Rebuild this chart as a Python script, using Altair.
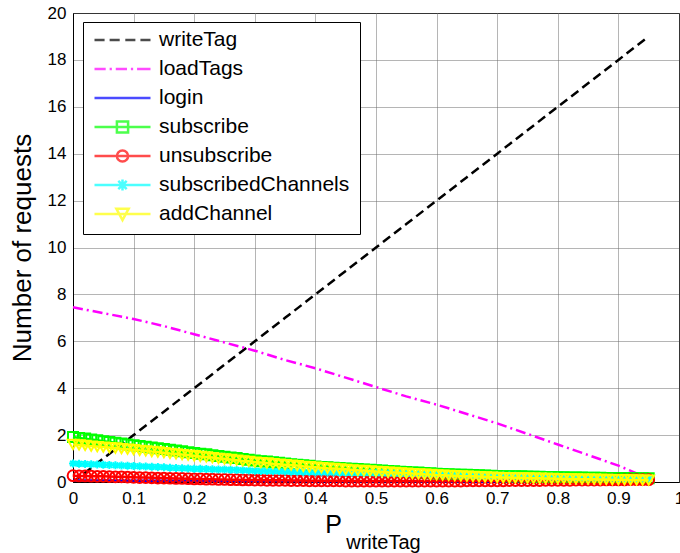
import altair as alt
import pandas as pd

FONT = "Liberation Sans"

# ---------------- data ----------------
series_names = ["writeTag", "loadTags", "login", "subscribe", "unsubscribe",
                "subscribedChannels", "addChannel"]
series_colors = ["#000000", "#ff00ff", "#0000ff", "#00ff00", "#ff0000",
                 "#00ffff", "#ffff00"]

x_coarse = [0.00, 0.05, 0.10, 0.15, 0.20, 0.25, 0.30, 0.35, 0.40, 0.45,
            0.50, 0.55, 0.60, 0.65, 0.70, 0.75, 0.80, 0.85, 0.90, 0.95]
write_tag = [0.0, 1.0, 2.0, 3.0, 4.0, 5.0, 6.0, 7.0, 8.0, 9.0,
             10.0, 11.0, 12.0, 13.0, 14.0, 15.0, 16.0, 17.0, 18.0, 19.0]
load_tags = [7.45, 7.20, 6.95, 6.65, 6.30, 5.95, 5.60, 5.20, 4.85, 4.45,
             4.05, 3.65, 3.30, 2.90, 2.50, 2.05, 1.60, 1.15, 0.70, 0.15]
login = [0.06, 0.06, 0.05, 0.05, 0.05, 0.04, 0.04, 0.04, 0.03, 0.03,
         0.03, 0.03, 0.02, 0.02, 0.02, 0.02, 0.01, 0.01, 0.01, 0.01]

x_fine = [round(i / 100, 2) for i in range(96)]
subscribe = [1.92, 1.88, 1.85, 1.81, 1.78, 1.74, 1.71, 1.67, 1.64, 1.60,
             1.57, 1.54, 1.50, 1.47, 1.44, 1.41, 1.37, 1.34, 1.31, 1.27,
             1.24, 1.21, 1.18, 1.14, 1.11, 1.08, 1.05, 1.02, 0.98, 0.95,
             0.92, 0.89, 0.87, 0.84, 0.82, 0.79, 0.76, 0.74, 0.71, 0.69,
             0.66, 0.64, 0.63, 0.61, 0.60, 0.58, 0.56, 0.55, 0.53, 0.52,
             0.50, 0.49, 0.47, 0.46, 0.44, 0.43, 0.41, 0.40, 0.38, 0.37,
             0.35, 0.34, 0.33, 0.32, 0.31, 0.31, 0.30, 0.29, 0.28, 0.27,
             0.26, 0.25, 0.25, 0.24, 0.24, 0.23, 0.22, 0.22, 0.21, 0.21,
             0.20, 0.20, 0.19, 0.19, 0.19, 0.18, 0.18, 0.18, 0.17, 0.17,
             0.17, 0.17, 0.16, 0.16, 0.16, 0.16]
unsubscribe = [0.27, 0.26, 0.26, 0.25, 0.24, 0.24, 0.23, 0.22, 0.22, 0.21,
               0.20, 0.19, 0.19, 0.18, 0.17, 0.17, 0.16, 0.15, 0.15, 0.14,
               0.13, 0.13, 0.12, 0.12, 0.11, 0.11, 0.10, 0.10, 0.09, 0.09,
               0.08, 0.08, 0.07, 0.07, 0.07, 0.07, 0.06, 0.06, 0.06, 0.05,
               0.05, 0.05, 0.05, 0.05, 0.05, 0.04, 0.04, 0.04, 0.04, 0.04,
               0.04, 0.04, 0.04, 0.04, 0.04, 0.04, 0.04, 0.04, 0.04, 0.04,
               0.04, 0.04, 0.04, 0.04, 0.04, 0.05, 0.05, 0.05, 0.05, 0.05,
               0.05, 0.05, 0.06, 0.06, 0.06, 0.06, 0.06, 0.06, 0.07, 0.07,
               0.07, 0.07, 0.07, 0.08, 0.08, 0.08, 0.08, 0.08, 0.09, 0.09,
               0.09, 0.09, 0.10, 0.10, 0.10, 0.10]
subscribed_channels = [0.79, 0.78, 0.77, 0.76, 0.75, 0.74, 0.72, 0.71, 0.70, 0.69,
                       0.68, 0.67, 0.66, 0.65, 0.64, 0.63, 0.61, 0.60, 0.59, 0.58,
                       0.57, 0.56, 0.55, 0.54, 0.53, 0.53, 0.52, 0.51, 0.50, 0.49,
                       0.48, 0.47, 0.47, 0.46, 0.46, 0.45, 0.44, 0.44, 0.43, 0.43,
                       0.42, 0.42, 0.41, 0.41, 0.40, 0.40, 0.39, 0.39, 0.38, 0.38,
                       0.37, 0.37, 0.36, 0.36, 0.35, 0.35, 0.35, 0.34, 0.34, 0.33,
                       0.33, 0.33, 0.32, 0.32, 0.31, 0.31, 0.31, 0.30, 0.30, 0.29,
                       0.29, 0.28, 0.28, 0.27, 0.26, 0.26, 0.25, 0.24, 0.24, 0.23,
                       0.22, 0.22, 0.21, 0.21, 0.20, 0.20, 0.19, 0.19, 0.18, 0.18,
                       0.17, 0.17, 0.16, 0.16, 0.15, 0.15]
add_channel = [1.60, 1.58, 1.56, 1.53, 1.51, 1.49, 1.47, 1.45, 1.42, 1.40,
               1.38, 1.35, 1.33, 1.30, 1.28, 1.25, 1.22, 1.20, 1.17, 1.15,
               1.12, 1.09, 1.07, 1.04, 1.01, 0.99, 0.96, 0.93, 0.90, 0.88,
               0.85, 0.83, 0.81, 0.78, 0.76, 0.74, 0.72, 0.70, 0.67, 0.65,
               0.63, 0.61, 0.59, 0.58, 0.56, 0.54, 0.52, 0.50, 0.49, 0.47,
               0.45, 0.44, 0.42, 0.41, 0.39, 0.38, 0.36, 0.35, 0.33, 0.32,
               0.30, 0.29, 0.28, 0.27, 0.26, 0.25, 0.24, 0.23, 0.22, 0.21,
               0.20, 0.19, 0.19, 0.18, 0.18, 0.17, 0.16, 0.16, 0.15, 0.15,
               0.14, 0.14, 0.13, 0.13, 0.12, 0.12, 0.12, 0.11, 0.11, 0.10,
               0.10, 0.10, 0.09, 0.09, 0.08, 0.08]

x_ticks = [0, 0.1, 0.2, 0.3, 0.4, 0.5, 0.6, 0.7, 0.8, 0.9, 1.0]
y_ticks = [0, 2, 4, 6, 8, 10, 12, 14, 16, 18, 20]

coarse = pd.DataFrame({"x": x_coarse, "writeTag": write_tag,
                       "loadTags": load_tags, "login": login})
fine = pd.DataFrame({"x": x_fine, "subscribe": subscribe,
                     "unsubscribe": unsubscribe,
                     "subscribedChannels": subscribed_channels,
                     "addChannel": add_channel})
legend_df = pd.DataFrame({"series": series_names, "x": [0.0] * 7, "y": [-10.0] * 7})

# legend symbols: line sample + marker, drawn as unit paths
legend_paths = [
    "M-1,0H-0.64M-0.46,0H-0.1M0.1,0H0.46M0.64,0H1",
    "M-1,0H-0.6M-0.46,0H-0.38M-0.24,0H0.16M0.3,0H0.38M0.52,0H1",
    "M-1,0H1",
    "M-1,0H1M-0.2,-0.2H0.2V0.2H-0.2Z",
    "M-1,0H1M0.2,0A0.2,0.2,0,1,1,-0.2,0A0.2,0.2,0,1,1,0.2,0",
    "M-1,0H1M-0.15,-0.15L0.15,0.15M-0.15,0.15L0.15,-0.15M0,-0.2V0.2",
    "M-1,0H1M-0.22,-0.19H0.22L0,0.22Z",
]
asterisk = "M-1,0H1M0,-1V1M-0.7,-0.7L0.7,0.7M-0.7,0.7L0.7,-0.7"

# ---------------- scales / axes ----------------
x_scale = alt.Scale(domain=[0, 1], nice=False, zero=False)
y_scale = alt.Scale(domain=[0, 20], nice=False)

x_axis = alt.Axis(values=x_ticks, format="~g", title="P", titleFontSize=25,
                  titleFontWeight="normal", titleX=260, titleY=50,
                  titleBaseline="alphabetic", titleAlign="center",
                  labelFontSize=17, labelPadding=8, labelFlush=False,
                  labelOverlap=False, ticks=False, tickSize=0,
                  grid=True, gridColor="#6a6a6a", gridDash=[1, 1],
                  domainColor="black", labelColor="black", titleColor="black")
y_axis = alt.Axis(values=y_ticks, format="d", title="Number of requests",
                  titleFontSize=26, titleFontWeight="normal", titleX=-43,
                  titleBaseline="alphabetic", labelFontSize=17, labelPadding=7,
                  labelFlush=False, labelOverlap=False, ticks=False, tickSize=0,
                  grid=True, gridColor="#6a6a6a", gridDash=[1, 1],
                  domainColor="black", labelColor="black", titleColor="black")
top_axis = alt.Axis(orient="top", labels=False, ticks=False, domain=False,
                    grid=False, title="writeTag", titleFontSize=20,
                    titleFontWeight="normal", titleX=310, titleY=535,
                    titleBaseline="alphabetic", titleAlign="center",
                    titleColor="black")


def xe(axis=None):
    return alt.X("x:Q", scale=x_scale, axis=axis)


def ye(field):
    return alt.Y(f"{field}:Q", scale=y_scale, axis=y_axis)


layers = []
layers.append(alt.Chart(coarse).mark_line(color="#000000", strokeWidth=2.5,
                                         strokeDash=[9, 5]).encode(x=xe(x_axis), y=ye("writeTag")))
layers.append(alt.Chart(coarse).mark_line(color="#ff00ff", strokeWidth=2.5,
                                         strokeDash=[10, 4, 2, 4]).encode(x=xe(), y=ye("loadTags")))
layers.append(alt.Chart(coarse).mark_line(color="#0000ff", strokeWidth=2.5).encode(x=xe(), y=ye("login")))

marker_specs = [
    ("subscribe", "#00ff00", "square", 100),
    ("unsubscribe", "#ff0000", "circle", 115),
    ("subscribedChannels", "#00ffff", asterisk, 64),
    ("addChannel", "#ffff00", "triangle-down", 115),
]
for field, col, shp, sz in marker_specs:
    layers.append(alt.Chart(fine).mark_line(color=col, strokeWidth=2.5).encode(x=xe(), y=ye(field)))
    layers.append(alt.Chart(fine).mark_point(color=col, shape=shp, size=sz, filled=False,
                                            strokeWidth=2, opacity=1).encode(x=xe(), y=ye(field)))

legend = alt.Legend(title=None, orient="none", legendX=10, legendY=9,
                    strokeColor="black", fillColor="white", padding=10,
                    labelFontSize=21, labelColor="black", labelOffset=7,
                    labelLimit=400,
                    symbolSize=3136, symbolStrokeWidth=2.5, clipHeight=16,
                    rowPadding=8, cornerRadius=0)
layers.append(
    alt.Chart(legend_df).mark_point(filled=False, clip=True, size=3136, strokeWidth=2.5).encode(
        x=xe(top_axis),
        y=ye("y"),
        color=alt.Color("series:N", scale=alt.Scale(domain=series_names, range=series_colors),
                        legend=legend),
        shape=alt.Shape("series:N", scale=alt.Scale(domain=series_names, range=legend_paths),
                        legend=legend),
    )
)

chart = alt.layer(*layers).resolve_axis(x="independent").properties(
    width=606, height=469,
    autosize=alt.AutoSizeParams(type="none"),
    padding={"left": 73, "top": 13, "right": 1, "bottom": 71},
    background="white",
).configure(font=FONT).configure_view(stroke="black", strokeWidth=1)

chart.save("out.html", embed_options={"renderer": "svg", "actions": False})
